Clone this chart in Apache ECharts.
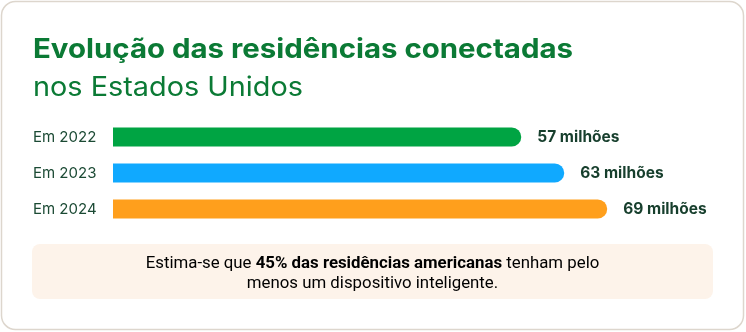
<!DOCTYPE html>
<html>
<head>
<meta charset="utf-8">
<script src="https://cdn.jsdelivr.net/npm/echarts@6/dist/echarts.min.js"></script>
<style>
  html, body { margin: 0; padding: 0; background: #ffffff; }
  #chart { width: 746px; height: 332px; }
</style>
</head>
<body>
<div id="chart"></div>
<script>
// Connected homes in the United States, millions
const categories = ['Em 2022', 'Em 2023', 'Em 2024'];
const values = [57, 63, 69];
const barColors = ['#00a443', '#10a9ff', '#ff9f1c'];
const valueSuffix = ' milhões';

const titleLine1 = 'Evolução das residências conectadas';
const titleLine2 = 'nos Estados Unidos';
const noteLine1 = [['Estima-se que ', 'n'], ['45% das residências americanas', 'b'], [' tenham pelo', 'n']];
const noteLine2 = [['menos um dispositivo inteligente.', 'n']];

const FONT = 'Inter, "Noto Sans", sans-serif';
const NOTE_FONT = 'Roboto, sans-serif';
const TITLE_SIZE = 27;
const TITLE1_WIDTH = 540; // target widths of the two heading lines
const TITLE2_WIDTH = 270;
const NOTE_WIDTH = 454;   // target width of the first footnote line

const measureCtx = document.createElement('canvas').getContext('2d');
function textWidth(text, font) {
  measureCtx.font = font;
  return measureCtx.measureText(text).width;
}

// Horizontal stretch so a heading line spans its target width
function stretch(text, weight, target) {
  const w = textWidth(text, weight + ' ' + TITLE_SIZE + 'px ' + FONT);
  return w > 0 ? Math.max(0.9, Math.min(1.15, target / w)) : 1;
}

// Pick the footnote font size so its first line spans NOTE_WIDTH
function noteFontSize() {
  let w = 0;
  noteLine1.forEach(([t, s]) => {
    w += textWidth(t, (s === 'b' ? 'bold ' : '') + '15px ' + NOTE_FONT);
  });
  const size = w > 0 ? 15 * NOTE_WIDTH / w : 15;
  return Math.max(13, Math.min(17, size));
}
const NOTE_SIZE = noteFontSize();

const toRich = parts => parts.map(([t, s]) => `{${s}|${t}}`).join('');
const noteText = toRich(noteLine1) + '\n' + toRich(noteLine2);

const chart = echarts.init(document.getElementById('chart'), null, { renderer: 'canvas' });

chart.setOption({
  backgroundColor: '#ffffff',
  animation: false,
  grid: { left: 113, top: 119, width: 573, height: 108, containLabel: false },
  xAxis: {
    type: 'value', min: 0, max: 80,
    show: false
  },
  yAxis: {
    type: 'category', inverse: true,
    data: categories,
    axisLine: { show: false }, axisTick: { show: false },
    axisLabel: {
      align: 'left', margin: 80,
      fontFamily: FONT, fontSize: 15, color: '#1b4a34'
    }
  },
  series: [{
    type: 'bar',
    barWidth: 19,
    data: values.map((v, i) => ({ value: v, itemStyle: { color: barColors[i] } })),
    itemStyle: { borderRadius: [0, 10, 10, 0] },
    label: {
      show: true, position: 'right', distance: 16,
      formatter: p => p.value + valueSuffix,
      fontFamily: FONT, fontSize: 15.5, fontWeight: 'bold', color: '#173f2d'
    }
  }],
  graphic: [
    {
      type: 'rect', z: -10, silent: true,
      shape: { x: 1.5, y: 1.5, width: 742, height: 328, r: 14 },
      style: { fill: '#ffffff', stroke: '#ddd6cd', lineWidth: 1.5 }
    },
    {
      type: 'text', silent: true,
      x: 33, y: 36, scaleX: stretch(titleLine1, 'bold', TITLE1_WIDTH),
      style: {
        text: titleLine1, align: 'left', verticalAlign: 'top',
        fontFamily: FONT, fontSize: TITLE_SIZE, fontWeight: 'bold', fill: '#0b7a35'
      }
    },
    {
      type: 'text', silent: true,
      x: 33, y: 74, scaleX: stretch(titleLine2, 'normal', TITLE2_WIDTH),
      style: {
        text: titleLine2, align: 'left', verticalAlign: 'top',
        fontFamily: FONT, fontSize: TITLE_SIZE, fontWeight: 'normal', fill: '#0b7a35'
      }
    },
    {
      type: 'rect', z: -5, silent: true,
      shape: { x: 32, y: 244, width: 681, height: 55, r: 8 },
      style: { fill: '#fdf3ea' }
    },
    {
      type: 'text', silent: true,
      x: 372.5, y: 273.5,
      style: {
        text: noteText,
        align: 'center', verticalAlign: 'middle',
        lineHeight: 20,
        rich: {
          n: { fontFamily: NOTE_FONT, fontSize: NOTE_SIZE, color: '#1b4a34', lineHeight: 20 },
          b: { fontFamily: NOTE_FONT, fontSize: NOTE_SIZE, fontWeight: 'bold', color: '#173f2d', lineHeight: 20 }
        }
      }
    }
  ]
});
</script>
</body>
</html>
